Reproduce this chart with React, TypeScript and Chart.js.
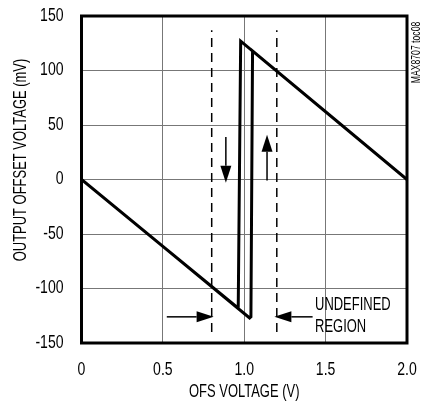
import React, { useEffect, useRef } from "react";
import { Chart, registerables } from "chart.js";

Chart.register(...registerables);

const FONT = "'Liberation Sans', Arial, sans-serif";

// Hysteresis path (OFS voltage V, output offset mV)
const curveX = [0, 1.033, 1.041, 1.051, 2.0, 0.978, 0.963, 0];
const curveY = [0, -127, -126, 118, 0, 127, -118, 0];

// Undefined-region dashed boundaries
const boundaryX = [0.8, 1.2];
const boundaryY = [-140, 137];

const xTicks = [0, 0.5, 1.0, 1.5, 2.0];
const xTickLabels = ["0", "0.5", "1.0", "1.5", "2.0"];
const yTicks = [-150, -100, -50, 0, 50, 100, 150];

// Arrows: [x0, y0, x1(tip), y1(tip)]
const arrowList = [
  [0.887, 39, 0.887, -3],
  [1.14, -1, 1.14, 41],
  [0.524, -126, 0.812, -126],
  [1.42, -126, 1.185, -126],
];

const noteLines = ["UNDEFINED", "REGION"];
const noteAt = [1.435, -115];
const sideNote = "MAX8707 toc08";
const xTitle = "OFS VOLTAGE (V)";
const yTitle = "OUTPUT OFFSET VOLTAGE (mV)";

const condense = (t: any) => (/^[-\d.\s]+$/.test(String(t)) ? 0.78 : 0.72);

export default function App() {
  const ref = useRef<HTMLCanvasElement | null>(null);
  useEffect(() => {
    document.body.style.margin = "0";
    const canvas = ref.current!;
    const narrowText = {
      id: "narrowText",
      beforeInit(chart: any) {
        const ctx = chart.ctx;
        const of = ctx.fillText.bind(ctx);
        const om = ctx.measureText.bind(ctx);
        ctx.fillText = (t: string, x: number, y: number) => {
          const f = condense(t);
          ctx.save();
          ctx.translate(x, y);
          ctx.scale(f, 1);
          of(t, 0, 0);
          ctx.restore();
        };
        ctx.measureText = (t: string) => {
          const m = om(t);
          return {
            width: m.width * condense(t),
            actualBoundingBoxAscent: m.actualBoundingBoxAscent,
            actualBoundingBoxDescent: m.actualBoundingBoxDescent,
            actualBoundingBoxLeft: m.actualBoundingBoxLeft,
            actualBoundingBoxRight: m.actualBoundingBoxRight,
          };
        };
      },
    };
    const overlay = {
      id: "overlay",
      afterDatasetsDraw(chart: any) {
        const { ctx, chartArea: a, scales } = chart;
        const xs = scales.x, ys = scales.y;
        ctx.save();
        ctx.fillStyle = "#000";
        ctx.strokeStyle = "#000";
        // arrows
        for (const [x0, y0, x1, y1] of arrowList) {
          const px0 = xs.getPixelForValue(x0), py0 = ys.getPixelForValue(y0);
          const px1 = xs.getPixelForValue(x1), py1 = ys.getPixelForValue(y1);
          const ang = Math.atan2(py1 - py0, px1 - px0);
          const hl = 17, hw = 5.5;
          const bx = px1 - hl * Math.cos(ang), by = py1 - hl * Math.sin(ang);
          ctx.lineWidth = 1.5;
          ctx.beginPath();
          ctx.moveTo(px0, py0);
          ctx.lineTo(bx, by);
          ctx.stroke();
          ctx.beginPath();
          ctx.moveTo(px1, py1);
          ctx.lineTo(bx + hw * Math.sin(ang), by - hw * Math.cos(ang));
          ctx.lineTo(bx - hw * Math.sin(ang), by + hw * Math.cos(ang));
          ctx.closePath();
          ctx.fill();
        }
        // note
        ctx.font = `18px ${FONT}`;
        ctx.textAlign = "left";
        ctx.textBaseline = "middle";
        const nx = xs.getPixelForValue(noteAt[0]);
        const ny = ys.getPixelForValue(noteAt[1]);
        noteLines.forEach((t, i) => ctx.fillText(t, nx, ny + i * 21.7));
        // border
        ctx.lineWidth = 3;
        ctx.strokeRect(a.left, a.top, a.right - a.left, a.bottom - a.top);
        // y title
        ctx.save();
        ctx.translate(21.5, 160);
        ctx.rotate(-Math.PI / 2);
        ctx.textAlign = "center";
        ctx.fillText(yTitle, 0, 0);
        ctx.restore();
        // side note
        ctx.font = `12px ${FONT}`;
        ctx.translate(417, 52.5);
        ctx.rotate(-Math.PI / 2);
        ctx.textAlign = "center";
        ctx.fillText(sideNote, 0, 0);
        ctx.restore();
      },
    };
    const chart = new Chart(canvas, {
      type: "line",
      data: {
        datasets: [
          {
            data: curveX.map((x, i) => ({ x, y: curveY[i] })),
            borderColor: "#000",
            borderWidth: 3,
            pointRadius: 0,
            tension: 0.000001,
            borderJoinStyle: "miter",
          },
          ...boundaryX.map((bx) => ({
            data: boundaryY.map((y) => ({ x: bx, y })),
            borderColor: "#000",
            borderWidth: 1.5,
            borderDash: [9, 6],
            pointRadius: 0,
          })),
        ],
      },
      options: {
        animation: false,
        responsive: false,
        devicePixelRatio: 1,
        layout: { padding: { top: 16, right: 15, left: 0, bottom: 0 } },
        plugins: { legend: { display: false }, tooltip: { enabled: false } },
        scales: {
          x: {
            type: "linear",
            min: 0,
            max: 2,
            afterBuildTicks: (s: any) => {
              s.ticks = xTicks.map((v) => ({ value: v }));
            },
            afterFit: (s: any) => {
              s.height = 63;
              s.paddingLeft = 0;
              s.paddingRight = 0;
            },
            ticks: {
              color: "#000",
              font: { family: FONT, size: 18 },
              padding: 16,
              callback: (v: any) => xTickLabels[xTicks.indexOf(Number(v))] ?? "",
            },
            grid: { color: "#777", lineWidth: 1, drawTicks: false },
            border: { display: false },
            title: {
              display: true,
              text: xTitle,
              color: "#000",
              font: { family: FONT, size: 18 },
              padding: { top: 4, bottom: 3 },
            },
          },
          y: {
            type: "linear",
            min: -150,
            max: 150,
            afterBuildTicks: (s: any) => {
              s.ticks = yTicks.map((v) => ({ value: v }));
            },
            afterFit: (s: any) => {
              s.width = 81.5;
              s.paddingTop = 0;
              s.paddingBottom = 0;
            },
            ticks: {
              color: "#000",
              font: { family: FONT, size: 18 },
              padding: 18,
            },
            grid: { color: "#777", lineWidth: 1, drawTicks: false },
            border: { display: false },
          },
        },
      },
      plugins: [narrowText, overlay],
    });
    return () => chart.destroy();
  }, []);
  return (
    <div style={{ width: 422, height: 406 }}>
      <canvas ref={ref} width={422} height={406} style={{ display: "block" }} />
    </div>
  );
}
